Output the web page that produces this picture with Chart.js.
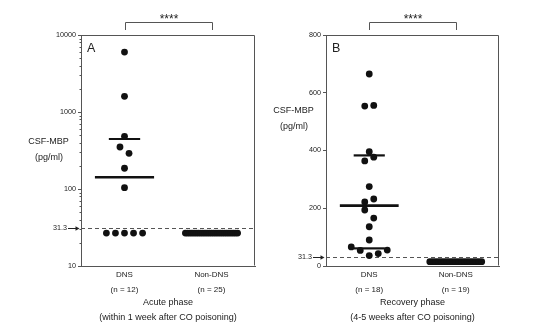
<!DOCTYPE html>
<html>
<head>
<meta charset="utf-8">
<title>CSF-MBP</title>
<script src="https://cdn.jsdelivr.net/npm/chart.js@4.4.1/dist/chart.umd.min.js"></script>
<style>
  html, body { margin: 0; padding: 0; background: #fff; }
  #wrap { position: relative; width: 560px; height: 331px; overflow: hidden; }
  canvas { position: absolute; top: 0; }
  #chartA { left: 0; }
  #chartB { left: 265px; }
</style>
</head>
<body>
<div id="wrap">
  <canvas id="chartA" width="265" height="331"></canvas>
  <canvas id="chartB" width="295" height="331"></canvas>
</div>
<script>
const groups = ['DNS', 'Non-DNS'];
const detectionLimit = 31.3;
const significance = '****';

// A: acute phase, log scale
const acuteCounts = ['(n = 12)', '(n = 25)'];
const acuteTicks = [10, 100, 1000, 10000];
const acuteDns = [6000, 1600, 483, 351, 291, 186, 104, 26.8, 26.8, 26.8, 26.8, 26.8];
const acuteDnsSlots = [0, 0, 0, -1, 1, 0, 0, -4, -2, 0, 2, 4];
const acuteNonDns = [26.8, 26.8, 26.8, 26.8, 26.8, 26.8, 26.8, 26.8, 26.8, 26.8,
                     26.8, 26.8, 26.8, 26.8, 26.8, 26.8, 26.8, 26.8, 26.8, 26.8,
                     26.8, 26.8, 26.8, 26.8, 26.8];
const acuteMedian = 142;
const acuteQuartiles = [446];

// B: recovery phase, linear scale
const recoveryCounts = ['(n = 18)', '(n = 19)'];
const recoveryTicks = [0, 200, 400, 600, 800];
const recoveryDns = [665, 554, 556, 396, 364, 377, 275, 232, 222, 194, 166, 136, 90, 66, 54, 36, 43, 55];
const recoveryDnsSlots = [0, -1, 1, 0, -1, 1, 0, 1, -1, -1, 1, 0, 0, -4, -2, 0, 2, 4];
const recoveryNonDns = [15, 15, 15, 15, 15, 15, 15, 15, 15, 15,
                        15, 15, 15, 15, 15, 15, 15, 15, 15];
const recoveryMedian = 209;
const recoveryQuartiles = [61, 383];

const FONT = "'Liberation Sans', Arial, Helvetica, sans-serif";
const INK = '#222';
const AXIS = '#555';
const DOT = '#111';

const SLOT = 0.052;        // jitter step (x units)
const ROW_HALF = 0.30;     // half width of a packed row of equal values
const MEDIAN_HALF = 0.34;
const QUART_HALF = 0.18;

function columnPoints(center, values, slots) {
    return values.map((v, i) => ({ x: center + slots[i] * SLOT, y: v }));
}

function packedRow(center, values) {
    const n = values.length;
    return values.map((v, i) => ({ x: center + (n > 1 ? (2 * i / (n - 1) - 1) * ROW_HALF : 0), y: v }));
}

function hLine(center, value, half, width) {
    return {
        type: 'line',
        data: [{ x: center - half, y: value }, { x: center + half, y: value }],
        borderColor: DOT,
        borderWidth: width,
        pointRadius: 0,
        fill: false
    };
}

function dots(data) {
    return {
        type: 'scatter',
        data: data,
        backgroundColor: DOT,
        borderWidth: 0,
        pointRadius: 3.4
    };
}

const panelDecor = {
    id: 'panelDecor',
    beforeDatasetsDraw(chart, args, opts) {
        const { ctx, chartArea: a, scales: { y } } = chart;
        const yy = Math.round(y.getPixelForValue(detectionLimit)) + 0.5;
        ctx.save();
        ctx.strokeStyle = AXIS;
        ctx.lineWidth = 1;
        ctx.setLineDash([4, 3]);
        ctx.beginPath();
        ctx.moveTo(a.left, yy);
        ctx.lineTo(a.right, yy);
        ctx.stroke();
        ctx.restore();
    },
    afterDraw(chart, args, opts) {
        const { ctx, chartArea: a, scales: { x, y } } = chart;
        ctx.save();

        // top and right edges of the frame
        ctx.strokeStyle = AXIS;
        ctx.lineWidth = 1;
        const L = Math.round(a.left) + 0.5, R = Math.round(a.right) - 0.5;
        const T = Math.round(a.top) + 0.5, B = Math.round(a.bottom) - 0.5;
        ctx.beginPath();
        ctx.moveTo(L, T);
        ctx.lineTo(R, T);
        ctx.lineTo(R, B);
        ctx.stroke();

        // minor ticks on the log axis
        if (opts.minor) {
            ctx.beginPath();
            for (let d = 10; d < 10000; d *= 10) {
                for (let k = 2; k <= 9; k++) {
                    const py = Math.round(y.getPixelForValue(k * d)) + 0.5;
                    ctx.moveTo(L - 2, py);
                    ctx.lineTo(L, py);
                }
            }
            ctx.stroke();
        }

        // detection limit marker
        const yy = Math.round(y.getPixelForValue(detectionLimit)) + 0.5;
        ctx.fillStyle = INK;
        ctx.font = '7.2px ' + FONT;
        ctx.textAlign = 'right';
        ctx.textBaseline = 'middle';
        ctx.fillText(String(detectionLimit), a.left - 14, yy);
        ctx.strokeStyle = INK;
        ctx.beginPath();
        ctx.moveTo(a.left - 13, yy);
        ctx.lineTo(a.left - 4, yy);
        ctx.stroke();
        ctx.beginPath();
        ctx.moveTo(a.left - 1.5, yy);
        ctx.lineTo(a.left - 5.5, yy - 2.2);
        ctx.lineTo(a.left - 5.5, yy + 2.2);
        ctx.closePath();
        ctx.fill();

        // y title, horizontal
        ctx.textAlign = 'center';
        ctx.font = '9px ' + FONT;
        ctx.fillText('CSF-MBP', opts.yTitle[0], opts.yTitle[1]);
        ctx.fillText('(pg/ml)', opts.yTitle[0] + 0.5, opts.yTitle[1] + 15.5);

        // panel letter
        ctx.textAlign = 'left';
        ctx.font = '12.5px ' + FONT;
        ctx.fillText(opts.letter, a.left + 6, a.top + 14);

        // significance bracket
        const x1 = Math.round(x.getPixelForValue(0.5)) + 0.5;
        const x2 = Math.round(x.getPixelForValue(1.5)) + 0.5;
        const bt = Math.round(a.top - 13) + 0.5;
        ctx.strokeStyle = AXIS;
        ctx.beginPath();
        ctx.moveTo(x1, a.top - 5);
        ctx.lineTo(x1, bt);
        ctx.lineTo(x2, bt);
        ctx.lineTo(x2, a.top - 5);
        ctx.stroke();
        ctx.textAlign = 'center';
        ctx.textBaseline = 'alphabetic';
        ctx.font = '12px ' + FONT;
        ctx.fillText(significance, (x1 + x2) / 2, a.top - 12);

        ctx.restore();
    }
};

function buildChart(id, cfg) {
    return new Chart(document.getElementById(id), {
        type: 'scatter',
        data: { datasets: cfg.datasets },
        options: {
            responsive: false,
            animation: false,
            events: [],
            layout: { padding: { left: cfg.padLeft, right: cfg.padRight, top: 35, bottom: 5.5 } },
            plugins: {
                legend: { display: false },
                tooltip: { enabled: false },
                panelDecor: { letter: cfg.letter, yTitle: cfg.yTitle, minor: cfg.minor }
            },
            scales: {
                x: {
                    type: 'linear',
                    min: 0,
                    max: 2,
                    afterBuildTicks: s => { s.ticks = [{ value: 0.5 }, { value: 1.5 }]; },
                    afterFit: s => { s.height = 59.5; },
                    grid: { drawOnChartArea: false, drawTicks: false },
                    border: { display: true, color: AXIS },
                    ticks: {
                        color: INK,
                        padding: 1.5,
                        maxRotation: 0,
                        autoSkip: false,
                        font: { family: FONT, size: 8, lineHeight: '15px' },
                        callback: (v, i) => [groups[i], cfg.counts[i]]
                    },
                    title: {
                        display: true,
                        text: cfg.xTitle,
                        color: INK,
                        padding: 0,
                        font: { family: FONT, size: 9, lineHeight: '15px' }
                    }
                },
                y: Object.assign({
                    afterBuildTicks: s => { s.ticks = cfg.yTicks.map(v => ({ value: v })); },
                    afterFit: s => { s.width = 40; },
                    grid: { drawOnChartArea: false, drawTicks: true, tickLength: 3, color: AXIS },
                    border: { display: true, color: AXIS },
                    ticks: {
                        color: INK,
                        padding: 2,
                        font: { family: FONT, size: 7.2 },
                        callback: v => String(v)
                    }
                }, cfg.yScale)
            }
        },
        plugins: [panelDecor]
    });
}

buildChart('chartA', {
    letter: 'A',
    minor: true,
    padLeft: 41,
    padRight: 10,
    yTitle: [48.5, 142],
    counts: acuteCounts,
    xTitle: ['Acute phase', '(within 1 week after CO poisoning)'],
    yTicks: acuteTicks,
    yScale: { type: 'logarithmic', min: 10, max: 10000 },
    datasets: [
        dots(columnPoints(0.5, acuteDns, acuteDnsSlots)),
        dots(packedRow(1.5, acuteNonDns)),
        hLine(0.5, acuteMedian, MEDIAN_HALF, 2.6),
        ...acuteQuartiles.map(q => hLine(0.5, q, QUART_HALF, 2.2))
    ]
});

buildChart('chartB', {
    letter: 'B',
    minor: false,
    padLeft: 21,
    padRight: 61,
    yTitle: [28.5, 111],
    counts: recoveryCounts,
    xTitle: ['Recovery phase', '(4-5 weeks after CO poisoning)'],
    yTicks: recoveryTicks,
    yScale: { type: 'linear', min: 0, max: 800 },
    datasets: [
        dots(columnPoints(0.5, recoveryDns, recoveryDnsSlots)),
        dots(packedRow(1.5, recoveryNonDns)),
        hLine(0.5, recoveryMedian, MEDIAN_HALF, 2.6),
        ...recoveryQuartiles.map(q => hLine(0.5, q, QUART_HALF, 2.2))
    ]
});
</script>
</body>
</html>
